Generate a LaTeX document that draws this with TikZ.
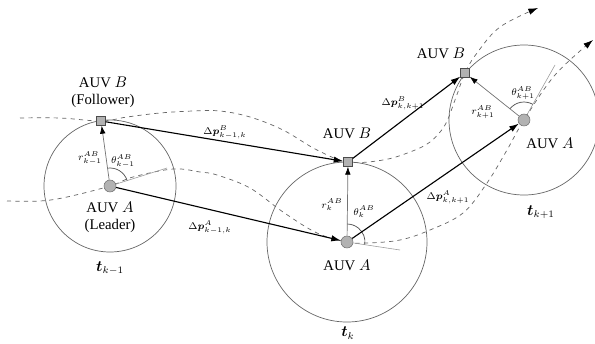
\documentclass[tikz,border=0pt]{standalone}
\usepackage{amsmath}
\usepackage{fontspec}
\setmainfont{Liberation Serif}
\usetikzlibrary{arrows.meta,angles,backgrounds}

\begin{document}
\begin{tikzpicture}[x=0.25mm,y=0.25mm,
  font=\fontsize{10.5}{12}\selectfont,
  bsq/.style={draw=black!70,fill=black!30,minimum size=2.2mm,inner sep=0pt},
  adot/.style={circle,draw=black!55,fill=black!30,minimum size=3mm,inner sep=0pt},
  ring/.style={draw=black!60,line width=0.5pt},
  trk/.style={draw=black!60,dashed,line width=0.5pt,-{Latex[length=2.4mm,width=1.6mm,color=black]}},
  dp/.style={draw,line width=0.8pt,-{Latex[length=2.4mm,width=1.6mm]}},
  rl/.style={draw=black!55,line width=0.5pt,-{Latex[length=2mm,width=1.4mm,color=black]}},
  hl/.style={draw=black!40,line width=0.4pt},
  ang/.style={draw=black!70,line width=0.5pt,angle radius=4.5mm},
  lb/.style={inner sep=1pt,align=center},
  sm/.style={font=\scriptsize,inner sep=1pt}]

\useasboundingbox (0,0) rectangle (595,343);

% leader A and follower B at t_{k-1}, t_k, t_{k+1}
\node[adot] (a1) at (110,157) {};
\node[adot] (a2) at (347,101) {};
\node[adot] (a3) at (524,223) {};
\node[bsq] (b1) at (101,222) {};
\node[bsq] (b2) at (348,181) {};
\node[bsq] (b3) at (465,270) {};

% heading of A
\coordinate (h1) at (167,175);
\coordinate (h2) at (400,93);
\coordinate (h3) at (555,278);

\begin{scope}[on background layer]
\draw[ring] (a1) circle[radius=66];
\draw[ring] (a2) circle[radius=80];
\draw[ring] (a3) circle[radius=75];
% trajectories
\draw[trk] plot[smooth,tension=0.6] coordinates {(20,225) (60,225) (b1.center) (127,226) (160,230) (193,232) (220,232)
  (250,226) (283,213) (317,193) (b2.center) (383,183) (410,191) (430,201) (445,218) (455,243) (b3.center)
  (477,290) (500,316) (538,335)};
\draw[trk] plot[smooth,tension=0.6] coordinates {(7,142) (40,142) (67,146) (a1.center) (133,166) (173,174) (200,171)
  (217,168) (250,155) (283,131) (317,110) (a2.center) (367,100) (400,103) (430,113) (463,130) (487,160)
  (507,193) (a3.center) (555,268) (593,303)};
\end{scope}

\draw[hl] (a1) -- (h1);
\draw[hl] (a2) -- (h2);
\draw[hl] (a3) -- (h3);
\pic[ang] {angle=h1--a1--b1};
\pic[ang] {angle=h2--a2--b2};
\pic[ang] {angle=h3--a3--b3};

% relative vectors
\draw[rl] (a1) -- (b1);
\draw[rl] (a2) -- (b2);
\draw[rl] (a3) -- (b3);

% displacements
\draw[dp] (b1) -- (b2);
\draw[dp] (a1) -- (a2);
\draw[dp] (b2) -- (b3);
\draw[dp] (a2) -- (a3);

% labels
\node[lb] (lb1) at (103,251) {AUV $B$\\(Follower)};
\node[lb] (la1) at (110,126) {AUV $A$\\(Leader)};
\node[lb] (lb2) at (347,210) {AUV $B$};
\node[lb] (la2) at (347,78) {AUV $A$};
\node[lb] (lb3) at (441,290) {AUV $B$};
\node[lb] (la3) at (550,200) {AUV $A$};

\node[sm] (r1) at (90,185) {$r^{AB}_{k-1}$};
\node[sm] (q1) at (123,182) {$\theta^{AB}_{k-1}$};
\node[sm] (r2) at (332,138) {$r^{AB}_{k}$};
\node[sm] (q2) at (364,131) {$\theta^{AB}_{k}$};
\node[sm] (r3) at (483,231) {$r^{AB}_{k+1}$};
\node[sm] (q3) at (523,250) {$\theta^{AB}_{k+1}$};

\node[sm] (pb1) at (225,211) {$\Delta\boldsymbol{p}^{B}_{k-1,k}$};
\node[sm] (pa1) at (210,116) {$\Delta\boldsymbol{p}^{A}_{k-1,k}$};
\node[sm] (pb2) at (403,240) {$\Delta\boldsymbol{p}^{B}_{k,k+1}$};
\node[sm] (pa2) at (448,146) {$\Delta\boldsymbol{p}^{A}_{k,k+1}$};

\node[lb] (t1) at (110,75) {$\boldsymbol{t}_{k-1}$};
\node[lb] (t2) at (348,10) {$\boldsymbol{t}_{k}$};
\node[lb] (t3) at (541,131) {$\boldsymbol{t}_{k+1}$};
\end{tikzpicture}
\end{document}
